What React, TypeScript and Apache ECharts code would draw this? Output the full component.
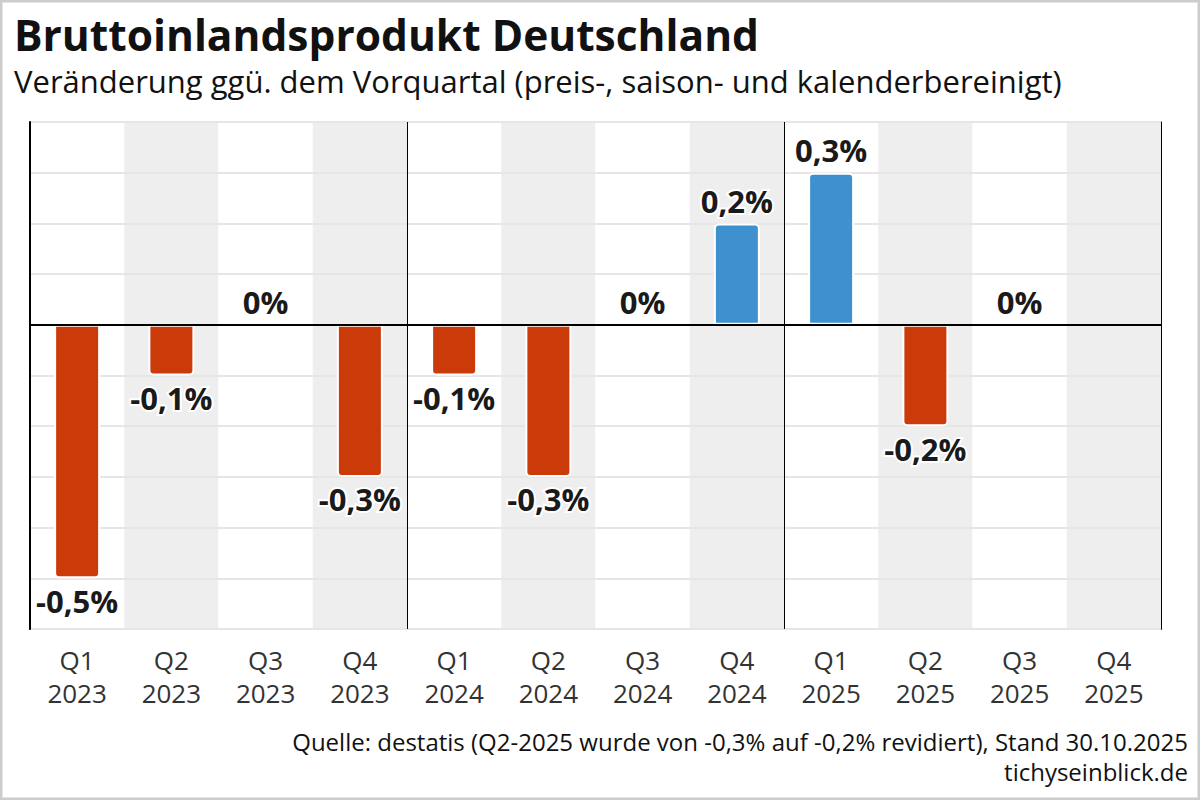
import React, { useEffect, useRef } from "react";
import * as echarts from "echarts";

const quarters = ["Q1", "Q2", "Q3", "Q4", "Q1", "Q2", "Q3", "Q4", "Q1", "Q2", "Q3", "Q4"];
const years = ["2023", "2023", "2023", "2023", "2024", "2024", "2024", "2024", "2025", "2025", "2025", "2025"];
const values: (number | null)[] = [-0.5, -0.1, 0, -0.3, -0.1, -0.3, 0, 0.2, 0.3, -0.2, 0, null];

const RED = "#CB3B09";
const BLUE = "#3E90CE";
const FONT = "'Open Sans', 'Noto Sans', sans-serif";

export default function App() {
  const ref = useRef<HTMLDivElement>(null);
  useEffect(() => {
    document.body.style.margin = "0";
    const chart = echarts.init(ref.current!, null, { renderer: "svg" });
    const categories = quarters.map((q, i) => q + "\n" + years[i]);
    const data = values.map((v) => {
      if (v === null) return { value: null };
      const neg = v < 0;
      return {
        value: v,
        itemStyle: {
          color: v > 0 ? BLUE : RED,
          borderColor: "#fff",
          borderWidth: v === 0 ? 0 : 2,
          borderRadius: neg ? [0, 0, 4, 4] : [4, 4, 0, 0],
        },
        label: {
          position: neg ? "bottom" : "top",
          distance: 7,
        },
      };
    });
    chart.setOption({
      animation: false,
      textStyle: { fontFamily: FONT },
      title: [
        {
          text: "Bruttoinlandsprodukt Deutschland",
          left: 9,
          top: 8,
          textStyle: { fontFamily: FONT, fontWeight: "bold", fontSize: 42.5, color: "#111" },
        },
        {
          text: "Veränderung ggü. dem Vorquartal (preis-, saison- und kalenderbereinigt)",
          left: 9,
          top: 60,
          textStyle: { fontFamily: FONT, fontWeight: "normal", fontSize: 31, color: "#111" },
        },
      ],
      grid: { left: 30, right: 39, top: 122, bottom: 171 },
      xAxis: [
        {
          type: "category",
          data: categories,
          z: 0,
          axisLine: { show: true, onZero: false, lineStyle: { color: "#333", width: 2 } },
          axisTick: { show: false },
          axisLabel: {
            color: "#333",
            fontSize: 26,
            lineHeight: 33,
            margin: 14,
            fontFamily: FONT,
          },
          splitArea: { show: true, areaStyle: { color: ["#ffffff", "#eeeeee"] } },
          splitLine: { show: false },
        },
        {
          type: "value",
          position: "top",
          min: 0,
          max: 12,
          interval: 4,
          z: 1,
          axisLine: { show: true, lineStyle: { color: "#000", width: 2 } },
          axisTick: { show: false },
          axisLabel: { show: false },
          splitLine: { show: true, lineStyle: { color: "#000", width: 1 } },
        },
      ],
      yAxis: [
        {
          type: "value",
          min: -0.6,
          max: 0.4,
          interval: 0.1,
          z: 1,
          axisLine: { show: true, lineStyle: { color: "#000", width: 2 } },
          axisTick: { show: false },
          axisLabel: { show: false },
          splitLine: { show: true, lineStyle: { color: "#e6e6e6", width: 2 } },
        },
        {
          type: "value",
          position: "right",
          min: -0.6,
          max: 0.4,
          interval: 0.1,
          z: 1,
          axisLine: { show: true, lineStyle: { color: "#000", width: 1 } },
          axisTick: { show: false },
          axisLabel: { show: false },
          splitLine: { show: false },
        },
      ],
      series: [
        {
          type: "bar",
          xAxisIndex: 0,
          yAxisIndex: 0,
          data,
          barWidth: 46,
          z: 3,
          label: {
            show: true,
            fontFamily: FONT,
            fontWeight: "bold",
            fontSize: 31,
            color: "#1a1a1a",
            textBorderColor: "#fff",
            textBorderWidth: 4,
            formatter: (p: any) =>
              p.value === null || p.value === undefined
                ? ""
                : (p.value === 0 ? "0" : String(p.value).replace(".", ",")) + "%",
          },
          markLine: {
            silent: true,
            symbol: ["none", "none"],
            label: { show: false },
            lineStyle: { color: "#000", width: 2, type: "solid" },
            data: [{ yAxis: 0 }],
          },
        },
      ],
      graphic: [
        {
          type: "rect",
          shape: { x: 0, y: 0, width: 1200, height: 800 },
          style: { fill: "none", stroke: "#cccccc", lineWidth: 5 },
          silent: true,
          z: 10,
        },
        {
          type: "text",
          right: 12,
          top: 729,
          style: {
            text: "Quelle: destatis (Q2-2025 wurde von -0,3% auf -0,2% revidiert), Stand 30.10.2025",
            fontFamily: FONT,
            fontSize: 24,
            fill: "#111",
          },
        },
        {
          type: "text",
          right: 12,
          top: 759,
          style: {
            text: "tichyseinblick.de",
            fontFamily: FONT,
            fontSize: 24,
            fill: "#111",
          },
        },
      ],
    });
    return () => chart.dispose();
  }, []);
  return <div ref={ref} style={{ width: 1200, height: 800 }} />;
}
